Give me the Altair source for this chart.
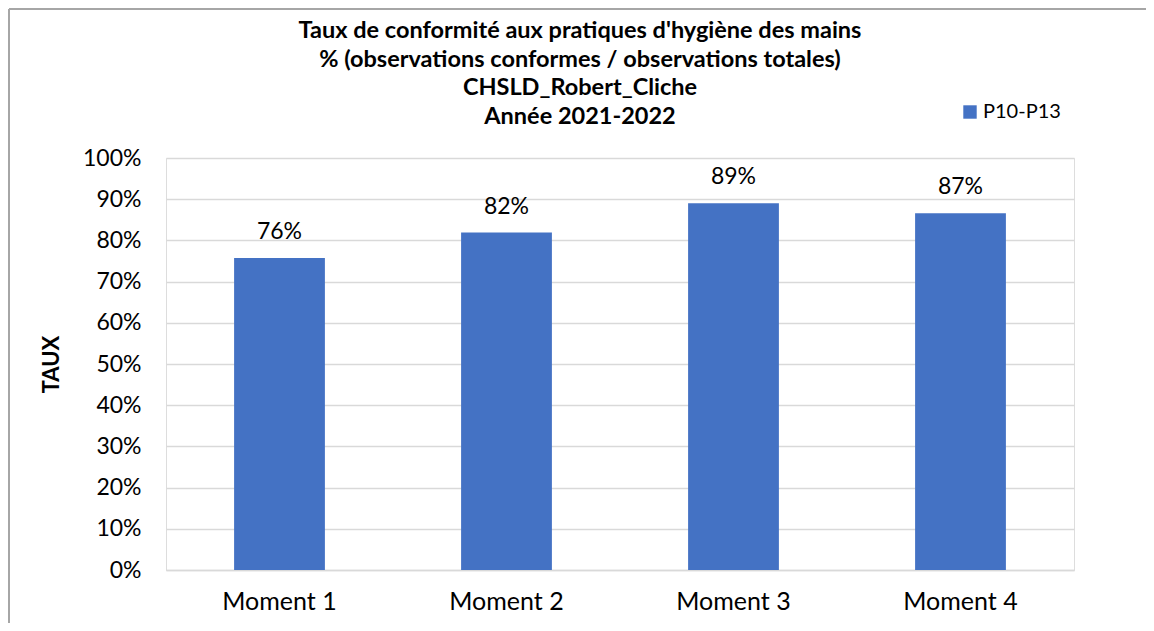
import altair as alt
import pandas as pd

categories = ["Moment 1", "Moment 2", "Moment 3", "Moment 4"]
values = [0.757, 0.819, 0.890, 0.866]
labels = ["76%", "82%", "89%", "87%"]
series = "P10-P13"
title_lines = [
    "Taux de conformité aux pratiques d'hygiène des mains",
    "% (observations conformes / observations totales)",
    "CHSLD_Robert_Cliche",
    "Année 2021-2022",
]

df = pd.DataFrame({"Moment": categories, "Taux": values, "Label": labels, "Serie": [series] * 4})

FONT = "Lato"
W, H = 908, 412

x_enc = alt.X(
    "Moment:N",
    sort=categories,
    title=None,
    scale=alt.Scale(paddingInner=0.6, paddingOuter=0.3),
    axis=alt.Axis(labelAngle=0, labelFontSize=25, labelFont=FONT, labelColor="#000000",
                  labelPadding=19, ticks=False, domain=True, domainColor="#d9d9d9",
                  domainWidth=1.5, grid=False),
)

bars = alt.Chart(df).mark_bar(color="#4472C4").encode(
    x=x_enc,
    y=alt.Y(
        "Taux:Q",
        scale=alt.Scale(domain=[0, 1], nice=False),
        axis=alt.Axis(format=".0%", values=[i / 10 for i in range(11)], title="TAUX",
                      titleFont=FONT, titleFontSize=22, titleFontWeight="bold", titleColor="#000000",
                      titleAngle=270, titleX=-115, titleY=H / 2, titleAlign="center",
                      titleBaseline="middle",
                      labelFont=FONT, labelFontSize=23, labelColor="#000000", labelPadding=25,
                      ticks=False, domain=False, gridColor="#d9d9d9", gridWidth=1.5),
    ),
    fill=alt.Fill("Serie:N", scale=alt.Scale(range=["#4472C4"]),
                  legend=alt.Legend(title=None, orient="none", legendX=794, legendY=-56,
                                    symbolType="square", symbolSize=180, symbolStrokeWidth=0,
                                    labelFont=FONT, labelFontSize=20, labelColor="#000000",
                                    labelOffset=3, padding=0)),
)

text = alt.Chart(df).mark_text(font=FONT, fontSize=23, color="#000000", baseline="alphabetic", dy=-19).encode(
    x=alt.X("Moment:N", sort=categories),
    y=alt.Y("Taux:Q"),
    text="Label:N",
)

frame_top = alt.Chart(df).mark_rule(color="#a6a6a6", strokeWidth=2, clip=False).encode(
    x=alt.value(-157), x2=alt.value(W + 80), y=alt.value(-149)
)
frame_left = alt.Chart(df).mark_rule(color="#a6a6a6", strokeWidth=2, clip=False).encode(
    x=alt.value(-157), y=alt.value(-149), y2=alt.value(H + 60)
)

chart = alt.layer(bars, text, frame_top, frame_left).properties(
    width=W,
    height=H,
    padding={"left": 158, "top": 150, "right": 72, "bottom": 53},
    autosize=alt.AutoSizeParams(type="none"),
    title=alt.TitleParams(text=title_lines, font=FONT, fontSize=23.5, fontWeight="bold", color="#000000",
                          anchor="middle", frame="group", dx=-40, dy=158, offset=38, lineHeight=28.5),
).configure_view(stroke=None).configure(background="white")

chart.save("out.html", embed_options={"renderer": "svg", "actions": False})
